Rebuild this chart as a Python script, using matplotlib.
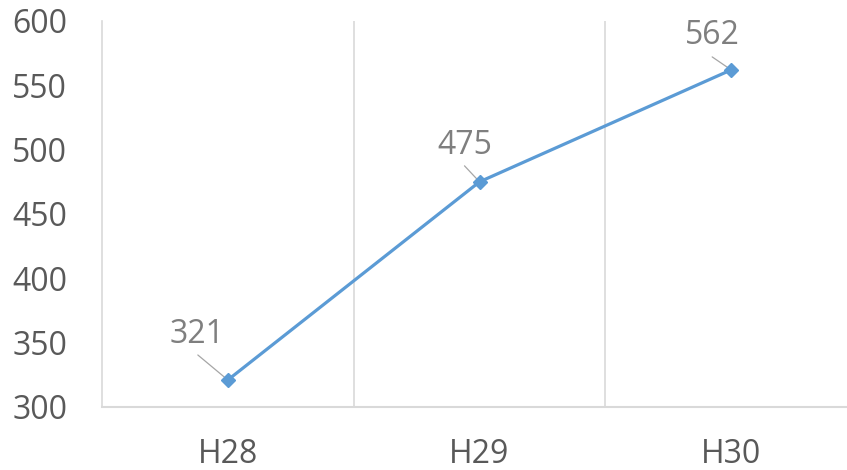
import matplotlib
matplotlib.use("Agg")
import matplotlib.pyplot as plt

categories = ["H28", "H29", "H30"]
values = [321, 475, 562]
y_ticks = [300, 350, 400, 450, 500, 550, 600]

plt.rcParams['font.family'] = ['Open Sans', 'DejaVu Sans']

fig = plt.figure(figsize=(8.47, 4.70), dpi=100)
ax = fig.add_axes([102/847, 1-407/470, (857-102)/847, (407-21)/470])

x = list(range(len(categories)))
ax.plot(x, values, color='#5b9bd5', lw=2.3, marker='D', markersize=7,
        markerfacecolor='#5b9bd5', markeredgecolor='#5b9bd5', zorder=3, clip_on=False)

ax.set_xlim(-0.5, len(categories) - 0.5)
ax.set_ylim(300, 600)
ax.set_yticks(y_ticks)
ax.set_yticklabels([str(v) for v in y_ticks])
ax.set_xticks(x)
ax.set_xticklabels(categories)
ax.set_xticks([i + 0.5 for i in x[:-1]], minor=True)
ax.grid(which='minor', axis='x', color='#d9d9d9', lw=1.2)
ax.grid(which='major', visible=False)

for s in ['top', 'right']:
    ax.spines[s].set_visible(False)
ax.spines['left'].set_color('#d9d9d9')
ax.spines['left'].set_linewidth(1.2)
ax.spines['bottom'].set_color('#d9d9d9')
ax.spines['bottom'].set_linewidth(1.5)

ax.tick_params(axis='y', which='both', length=0, pad=25, labelsize=23, labelcolor='#595959')
ax.tick_params(axis='x', which='both', length=0, pad=22, labelsize=23, labelcolor='#595959')

label_offsets = [(-31, 45), (-15, 36), (-19, 34)]
leader_offsets = [(-30, 25), (-15, 16), (-19, 13)]
for xi, v, (tx, ty), (lx, ly) in zip(x, values, label_offsets, leader_offsets):
    ax.annotate(str(v), xy=(xi, v), xytext=(tx, ty), textcoords='offset pixels',
                ha='center', va='center', fontsize=23, color='#7f7f7f', zorder=4)
    ax.annotate('', xy=(xi, v), xytext=(lx, ly), textcoords='offset pixels',
                arrowprops=dict(arrowstyle='-', color='#a6a6a6', lw=0.9,
                                shrinkA=0, shrinkB=0), zorder=2)

fig.savefig('out.png', dpi=100)
